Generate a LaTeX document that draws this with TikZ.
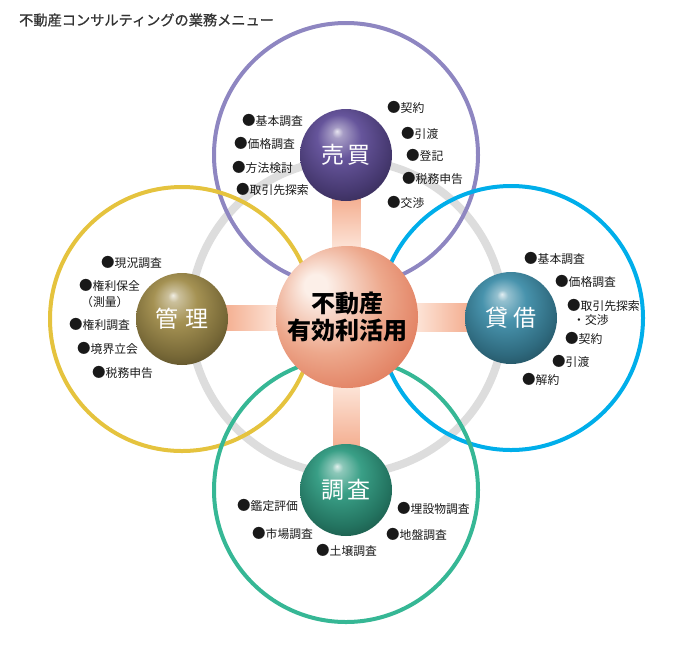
\documentclass[tikz,border=0pt]{standalone}
\usepackage{fontspec}
\setmainfont{Noto Sans CJK JP}
\newfontfamily\titlefont{Noto Sans CJK JP}[FakeBold=0.8]
\usetikzlibrary{backgrounds}
\definecolor{ringgray}{HTML}{DDDDDD}
\definecolor{cpurple}{HTML}{8E86C1}
\definecolor{cyellow}{HTML}{E5C33E}
\definecolor{cblue}{HTML}{00AEEA}
\definecolor{cgreen}{HTML}{36B795}
\definecolor{bpurple}{HTML}{5E4C96}
\definecolor{bolive}{HTML}{A08C4A}
\definecolor{bteal}{HTML}{3E8DA8}
\definecolor{bgreen}{HTML}{2F9A80}
\definecolor{salA}{HTML}{FCEFE8}
\definecolor{salB}{HTML}{EDA88C}
\definecolor{salC}{HTML}{D85E3D}
\definecolor{barDark}{HTML}{F4AE90}
\definecolor{barLight}{HTML}{FDE6DA}
\definecolor{titlegray}{HTML}{333333}
\newcommand\mkball[2]{\pgfdeclareradialshading{#1}{\pgfpoint{-5bp}{13bp}}{%
 color(0bp)=(#2!15!white); color(3bp)=(#2!55!white); color(12bp)=(#2!95!white);
 color(26bp)=(#2!75!black); color(38bp)=(#2!45!black); color(50bp)=(#2!45!black)}}
\mkball{purpleball}{bpurple}
\mkball{oliveball}{bolive}
\mkball{tealball}{bteal}
\mkball{greenball}{bgreen}
\pgfdeclareradialshading{salmonball}{\pgfpoint{-12bp}{12bp}}{%
 color(0bp)=(salA); color(4bp)=(salA); color(20bp)=(salB); color(42bp)=(salC); color(50bp)=(salC)}
\newcommand\bul{{\fontsize{13.5pt}{13pt}\selectfont ●}}
\tikzset{
 sphere/.style={circle, inner sep=0, minimum size=92pt, text=white,
   font=\fontsize{23pt}{26pt}\selectfont},
 itemlbl/.style={anchor=west, inner sep=0, text=black!90,
   font=\fontsize{11.8pt}{13pt}\selectfont},
 bigring/.style={line width=4pt},
}
\begin{document}
\begin{tikzpicture}[x=1pt,y=-1pt]
\useasboundingbox (0,0) rectangle (698,646);
\node[anchor=west, inner sep=0, text=titlegray, font=\fontsize{14.2pt}{16pt}\selectfont\titlefont] (title) at (19,20) {不動産コンサルティングの業務メニュー};
% spheres
\node[circle, inner sep=0, minimum size=142pt, shading=salmonball, align=center,
  font=\fontsize{24pt}{27pt}\selectfont\bfseries] (c) at (347,317) {不動産\\有効利活用};
\node[sphere, shading=purpleball] (sb) at (346,155) {売\hspace{4pt}買};
\node[sphere, shading=oliveball] (kr) at (182,319) {管\hspace{7pt}理};
\node[sphere, shading=tealball] (tk) at (511,318) {貸\hspace{5pt}借};
\node[sphere, shading=greenball] (cs) at (346,490) {調\hspace{4pt}査};
\begin{pgfonlayer}{background}
\draw[ringgray, line width=8pt] (c.center) circle[radius=157pt];
\draw[cpurple, bigring] (sb.center) circle[radius=132pt];
\draw[cyellow, bigring] (kr.center) circle[radius=132pt];
\draw[cblue, bigring] (tk.center) circle[radius=132pt];
\draw[cgreen, bigring] (cs.center) circle[radius=132pt];
\shade[top color=barDark, bottom color=barLight] ([xshift=-13.5pt,yshift=4pt]sb.south) rectangle ([xshift=13.5pt,yshift=-4pt]c.north);
\shade[top color=barLight, bottom color=barDark] ([xshift=-13.5pt,yshift=4pt]c.south) rectangle ([xshift=13.5pt,yshift=-4pt]cs.north);
\shade[left color=barDark, right color=barLight] ([xshift=-4pt,yshift=13.5pt]kr.east) rectangle ([xshift=4pt,yshift=-13.5pt]c.west);
\shade[left color=barLight, right color=barDark] ([xshift=-4pt,yshift=13.5pt]c.east) rectangle ([xshift=4pt,yshift=-13.5pt]tk.west);
\end{pgfonlayer}
% 売買 items
\node[itemlbl] (s1) at (242,120) {\bul 基本調査};
\node[itemlbl] (s2) at (234,143) {\bul 価格調査};
\node[itemlbl] (s3) at (232,167) {\bul 方法検討};
\node[itemlbl] (s4) at (236,189) {\bul 取引先探索};
\node[itemlbl] (s5) at (387,107) {\bul 契約};
\node[itemlbl] (s6) at (401,133) {\bul 引渡};
\node[itemlbl] (s7) at (406,155) {\bul 登記};
\node[itemlbl] (s8) at (402,178) {\bul 税務申告};
\node[itemlbl] (s9) at (387,202) {\bul 交渉};
% 管理 items
\node[itemlbl] (k1) at (101,262) {\bul 現況調査};
\node[itemlbl] (k2) at (79,285) {\bul 権利保全};
\node[itemlbl] (k3) at (81,302) {（測量）};
\node[itemlbl] (k4) at (69,324) {\bul 権利調査};
\node[itemlbl] (k5) at (77,348) {\bul 境界立会};
\node[itemlbl] (k6) at (92,372) {\bul 税務申告};
% 貸借 items
\node[itemlbl] (t1) at (524,258) {\bul 基本調査};
\node[itemlbl] (t2) at (555,281) {\bul 価格調査};
\node[itemlbl] (t3) at (567,305) {\bul 取引先探索};
\node[itemlbl] (t4) at (573,320) {・交渉};
\node[itemlbl] (t5) at (565,338) {\bul 契約};
\node[itemlbl] (t6) at (552,361) {\bul 引渡};
\node[itemlbl] (t7) at (522,379) {\bul 解約};
% 調査 items
\node[itemlbl] (c1) at (237,505) {\bul 鑑定評価};
\node[itemlbl] (c2) at (252,533) {\bul 市場調査};
\node[itemlbl] (c3) at (316,550) {\bul 土壌調査};
\node[itemlbl] (c4) at (397,508) {\bul 埋設物調査};
\node[itemlbl] (c5) at (386,534) {\bul 地盤調査};
\end{tikzpicture}
\end{document}
